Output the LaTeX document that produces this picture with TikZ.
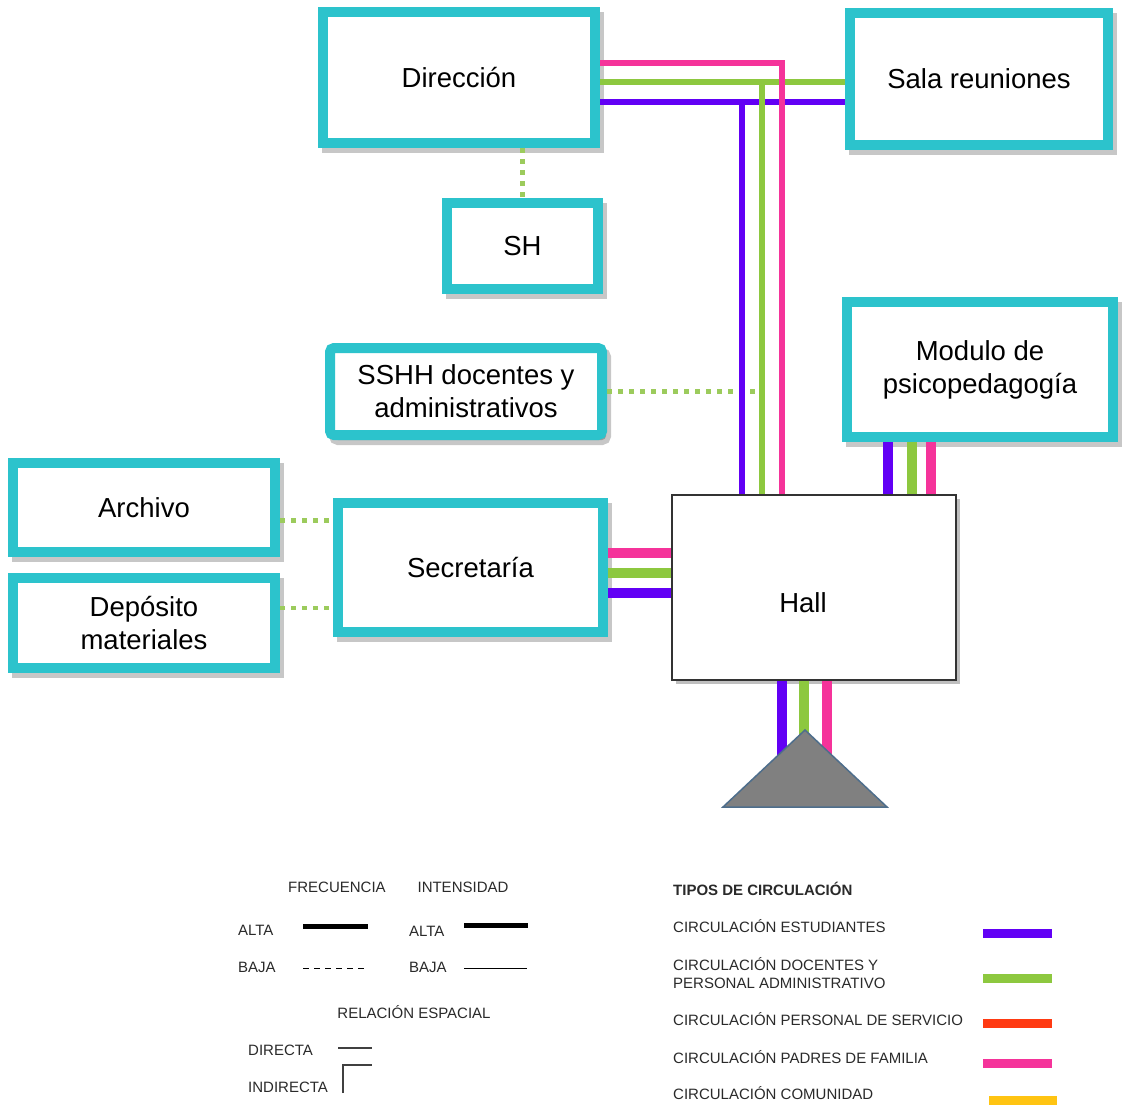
\documentclass[tikz,border=0pt]{standalone}
\usepackage{fontspec}
\setmainfont{Liberation Sans}
\usetikzlibrary{shadows}
\definecolor{roomcyan}{HTML}{2CC3CC}
\definecolor{estudiante}{HTML}{6200F5}
\definecolor{docente}{HTML}{8DC83F}
\definecolor{servicio}{HTML}{FF3A12}
\definecolor{padres}{HTML}{F5339A}
\definecolor{comunidad}{HTML}{FFC412}
\definecolor{dotgreen}{HTML}{9CCB5C}
\definecolor{legendtext}{HTML}{2A2A2A}
\definecolor{entrygray}{HTML}{808080}
\definecolor{entryedge}{HTML}{4E6E8C}
\newcommand{\roomfont}{\fontsize{27.5}{33}\selectfont}
\newcommand{\legendfont}{\fontsize{15}{18}\selectfont}
\tikzset{
	room/.style={draw=roomcyan, line width=10pt, fill=white, inner sep=0pt, align=center, font=\roomfont,
		drop shadow={shadow xshift=4pt, shadow yshift=-5pt, fill=black, draw=black, opacity=0.22}},
	hallbox/.style={draw=black!80, line width=1.5pt, fill=white, minimum width=284pt, minimum height=185pt,
		drop shadow={shadow xshift=4pt, shadow yshift=-4pt, fill=black, opacity=0.25}},
	flow/.style={line width=5.5pt},
	heavyflow/.style={line width=10pt},
	servdot/.style={dotgreen, line width=4.5pt, dash pattern=on 5pt off 6pt},
	legtext/.style={anchor=base west, font=\legendfont, text=legendtext, inner sep=0pt},
	legbar/.style={line width=9pt},
}

\begin{document}
\begin{tikzpicture}[x=1pt,y=-1pt]
	% Fixed white canvas, y grows downwards.
	\path[use as bounding box] (0,0) rectangle (1122,1106);
	\fill[white] (0,0) rectangle (1122,1106);

	% Rooms of the administrative block.
	\node[room, minimum width=272pt, minimum height=131pt] (dir) at (459,77.5) {Dirección};
	\node[room, minimum width=258pt, minimum height=132pt] (sala) at (979,79) {Sala reuniones};
	\node[room, minimum width=151pt, minimum height=86pt] (sh) at (522.5,246) {SH};
	\node[room, rounded corners=4pt, minimum width=272pt, minimum height=87pt] (sshh) at (466,391.5)
		{SSHH docentes y\\administrativos};
	\node[room, minimum width=266pt, minimum height=135pt] (modulo) at (980,369.5)
		{Modulo de\\psicopedagogía};
	\node[room, minimum width=262pt, minimum height=89pt] (archivo) at (144,507.5) {Archivo};
	\node[room, minimum width=262pt, minimum height=90pt] (deposito) at (144,623)
		{Depósito\\materiales};
	\node[room, minimum width=265pt, minimum height=129pt] (secretaria) at (470.5,567.5) {Secretaría};
	\node[hallbox] (hall) at (814,587.5) {};
	\node[font=\roomfont, inner sep=0pt] (halltxt) at (803,603) {Hall};

	% Indirect relations (dotted).
	\coordinate (pinkin) at ([xshift=-32pt]hall.north);
	\coordinate (greenin) at ([xshift=-52pt]hall.north);
	\coordinate (violetin) at ([xshift=-72pt]hall.north);
	\draw[servdot] (dir.south -| sh.north) -- (sh.north);
	\draw[servdot] (sshh.east) -- (sshh.east -| greenin);
	\draw[servdot] ([yshift=-13pt]archivo.east) -- ([yshift=-13pt]archivo.east -| secretaria.west);
	\draw[servdot] ([yshift=15pt]deposito.east) -- ([yshift=15pt]deposito.east -| secretaria.west);

	% Circulation from Direccion to Sala reuniones and down to the Hall.
	\coordinate (pinkout) at ([yshift=14.5pt]dir.east);
	\coordinate (greenout) at ([yshift=-4.5pt]dir.east);
	\coordinate (violetout) at ([yshift=-24.5pt]dir.east);
	\draw[flow, docente] (greenout) -- (greenout -| sala.west);
	\draw[flow, estudiante] (violetout) -- (violetout -| sala.west);
	\draw[flow, padres] (pinkout) -| (pinkin);
	\draw[flow, docente] (greenout -| greenin) -- (greenin);
	\draw[flow, estudiante] (violetout -| violetin) -- (violetin);

	% Modulo -> Hall
	\foreach \dx/\c in {-92/estudiante,-68/docente,-49/padres}
		\draw[heavyflow, \c] ([xshift=\dx pt]modulo.south) -- ([xshift=\dx pt]modulo.south |- hall.north);
	% Secretaria -> Hall
	\foreach \dy/\c in {14.5/padres,-5.5/docente,-25.5/estudiante}
		\draw[heavyflow, \c] ([yshift=\dy pt]secretaria.east) -- ([yshift=\dy pt]secretaria.east -| hall.west);

	% Hall -> entrance
	\coordinate (entrance) at (805,730);
	\coordinate (entrybase) at (805,770);
	\foreach \dx/\c in {-32/estudiante,-10/docente,13/padres}
		\draw[heavyflow, \c] ([xshift=\dx pt]hall.south) -- ([xshift=\dx pt]hall.south |- entrybase);
	\filldraw[fill=entrygray, draw=entryedge, line width=1.5pt] (entrance) -- (723,807) -- (887,807) -- cycle;

	% Legend: frequency, intensity, spatial relation.
	\node[legtext, anchor=base] (frecuencia) at (337,892.5) {FRECUENCIA};
	\node[legtext, anchor=base] (intensidad) at (463,892.5) {INTENSIDAD};
	\node[legtext] (freqalta) at (238,935) {ALTA};
	\node[legtext] (intalta) at (409,936) {ALTA};
	\node[legtext] (freqbaja) at (238,972) {BAJA};
	\node[legtext] (intbaja) at (409,972) {BAJA};
	\draw[line width=5pt] (303,926) -- (368,926);
	\draw[line width=5pt] (464,925) -- (528,925);
	\draw[line width=0.9pt, dash pattern=on 6pt off 5pt] (303,968) -- (368,968);
	\draw[line width=0.9pt] (464,968) -- (527,968);
	\node[legtext, anchor=base] (relacion) at (414,1018) {RELACIÓN ESPACIAL};
	\node[legtext] (directa) at (248,1055) {DIRECTA};
	\node[legtext] (indirecta) at (248,1092) {INDIRECTA};
	\draw[line width=1.2pt, black!75] (338,1048) -- (372,1048);
	\draw[line width=1.2pt, black!75] (343,1093) |- (372,1065);

	% Legend: circulation types.
	\node[legtext, font=\legendfont\bfseries] (tipos) at (673,895) {TIPOS DE CIRCULACIÓN};
	\node[legtext] (lestudiantes) at (673,932) {CIRCULACIÓN ESTUDIANTES};
	\node[legtext, anchor=west, align=left] (ldocentes) at (673,973.5)
		{CIRCULACIÓN DOCENTES Y\\PERSONAL ADMINISTRATIVO};
	\node[legtext] (lservicio) at (673,1025) {CIRCULACIÓN PERSONAL DE SERVICIO};
	\node[legtext] (lpadres) at (673,1063) {CIRCULACIÓN PADRES DE FAMILIA};
	\node[legtext] (lcomunidad) at (673,1099) {CIRCULACIÓN COMUNIDAD};
	\foreach \y/\c in {933/estudiante,978/docente,1023/servicio,1063/padres}
		\draw[legbar, \c] (983,\y) -- (1052,\y);
	\draw[legbar, comunidad] (989,1100) -- (1057,1100);
\end{tikzpicture}
\end{document}
